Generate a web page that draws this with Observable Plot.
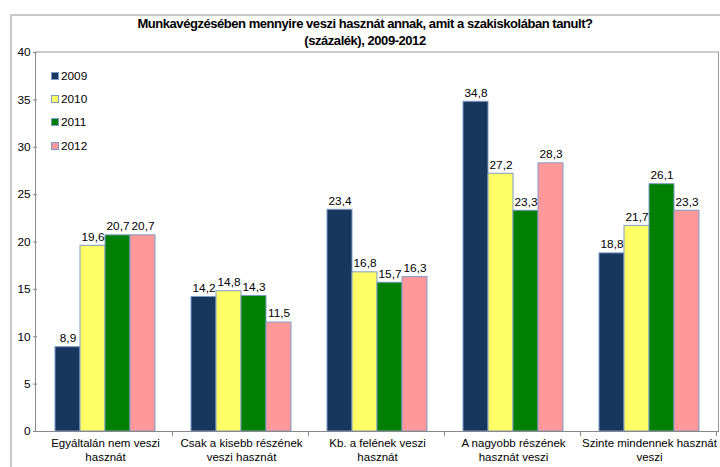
<!DOCTYPE html>
<html>
<head>
<meta charset="utf-8">
<script src="https://cdn.jsdelivr.net/npm/d3@7"></script>
<script src="https://cdn.jsdelivr.net/npm/@observablehq/plot@0.6"></script>
<style>
  body { margin: 0; background: #fff; font-family: "Liberation Sans", Arial, sans-serif; }
  #wrap { position: relative; width: 720px; height: 467px; overflow: hidden; }
  #border { position: absolute; left: 10px; top: 14px; width: 720px; height: 470px;
            border-left: 2px solid #c8c8c8; border-top: 2px solid #c8c8c8; box-sizing: border-box; }
  #title { position: absolute; left: 10px; width: 710px; top: 15px; text-align: center;
           font-weight: bold; font-size: 13px; line-height: 17px; letter-spacing: -0.45px; color: #000; }
  #legend { position: absolute; left: 51px; top: 64px; font-size: 11.8px; color: #000; }
  #legend div { height: 23.4px; display: flex; align-items: center; }
  #legend span.sw { width: 6px; height: 6px; border: 1px solid #7f9cc8; margin-right: 2px; display: inline-block; }
  svg { position: absolute; left: 0; top: 0; }
</style>
</head>
<body>
<div id="wrap">
  <div id="border"></div>
  <div id="chart"></div>
  <div id="title">Munkavégzésében mennyire veszi hasznát annak, amit a szakiskolában tanult?<br>(százalék), 2009-2012</div>
  <div id="legend"></div>
</div>
<script>
const categories = ["Egyáltalán nem veszi hasznát", "Csak a kisebb részének veszi hasznát", "Kb. a felének veszi hasznát", "A nagyobb részének hasznát veszi", "Szinte mindennek hasznát veszi"];
const categoryLabels = ["Egyáltalán nem veszi\nhasznát", "Csak a kisebb részének\nveszi hasznát", "Kb. a felének veszi\nhasznát", "A nagyobb részének\nhasznát veszi", "Szinte mindennek hasznát\nveszi"];
const years = ["2009", "2010", "2011", "2012"];
const v2009 = [8.9, 14.2, 23.4, 34.8, 18.8];
const v2010 = [19.6, 14.8, 16.8, 27.2, 21.7];
const v2011 = [20.7, 14.3, 15.7, 23.3, 26.1];
const v2012 = [20.7, 11.5, 16.3, 28.3, 23.3];
const colors = ["#17375e", "#ffff66", "#008000", "#ff9999"];
const yTicks = [0, 5, 10, 15, 20, 25, 30, 35, 40];

const series = [v2009, v2010, v2011, v2012];
const data = [];
categories.forEach((c, i) => years.forEach((y, j) => data.push({cat: c, year: y, value: series[j][i]})));
const fmt = v => v.toFixed(1).replace(".", ",");

const chart = Plot.plot({
  width: 720,
  height: 467,
  marginTop: 52,
  marginBottom: 36,
  marginLeft: 35,
  marginRight: 1,
  style: {fontFamily: "Liberation Sans, Arial, sans-serif", fontSize: "11.5px", color: "#000", background: "transparent"},
  fx: {domain: categories, padding: 0, label: null, axis: null},
  x: {domain: years, paddingInner: 0, paddingOuter: 0.68, axis: null},
  y: {domain: [0, 40], ticks: yTicks, label: null},
  color: {domain: years, range: colors},
  marks: [
    Plot.axisY({ticks: yTicks, tickSize: 4, tickPadding: 3, label: null, stroke: "#888", fontSize: "11.8px"}),
    Plot.axisFx({anchor: "bottom", tickSize: 0, tickPadding: 6, label: null, fontSize: "11.5px", lineHeight: 1.2,
      tickFormat: c => categoryLabels[categories.indexOf(c)]}),
    Plot.barY(data, {fx: "cat", x: "year", y: "value", fill: "year", stroke: "#7f9cc8", strokeWidth: 1}),
    Plot.text(data, {fx: "cat", x: "year", y: "value", text: d => fmt(d.value), dy: -9, fontSize: "11.8px", fill: "#000"})
  ]
});
document.getElementById("chart").appendChild(chart);

// frame and category separator ticks from the library scales
const fxS = chart.scale("fx");
const yS = chart.scale("y");
const svg = d3.select(chart);
const x0 = fxS.range[0], x1 = fxS.range[1];
const yb = yS.apply(0), yt = yS.apply(40);
const g = svg.append("g").attr("fill", "none");
g.append("line").attr("x1", x0).attr("x2", x1).attr("y1", yt).attr("y2", yt).attr("stroke", "#999");
g.append("line").attr("x1", x1 - 0.5).attr("x2", x1 - 0.5).attr("y1", yt).attr("y2", yb).attr("stroke", "#999");
g.append("line").attr("x1", x0).attr("x2", x1).attr("y1", yb + 0.5).attr("y2", yb + 0.5).attr("stroke", "#888");
g.append("line").attr("x1", x0 + 0.5).attr("x2", x0 + 0.5).attr("y1", yt).attr("y2", yb).attr("stroke", "#888");
categories.forEach((c, i) => {
  const bx = fxS.apply(c) + fxS.bandwidth;
  g.append("line").attr("x1", bx - 0.5).attr("x2", bx - 0.5).attr("y1", yb).attr("y2", yb + 5).attr("stroke", "#888");
});

// legend
const leg = document.getElementById("legend");
years.forEach((y, j) => {
  const d = document.createElement("div");
  d.innerHTML = `<span class="sw" style="background:${colors[j]}"></span>${y}`;
  leg.appendChild(d);
});
</script>
</body>
</html>
